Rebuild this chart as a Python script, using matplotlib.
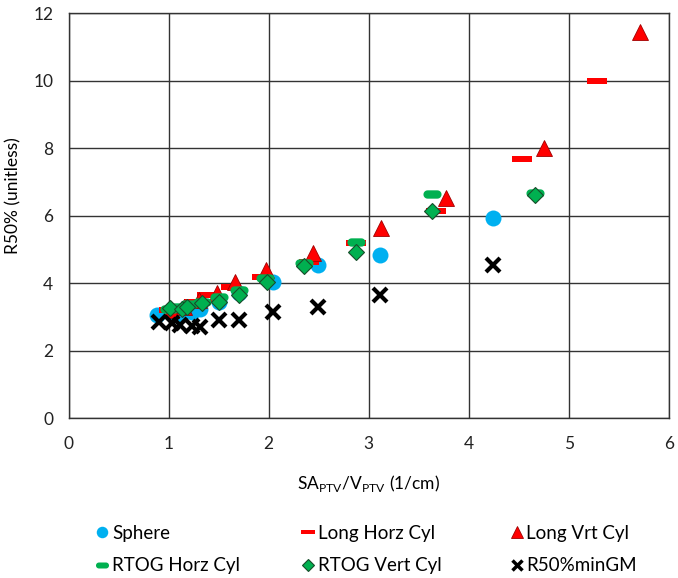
import matplotlib
matplotlib.use("Agg")
import matplotlib.pyplot as plt
from matplotlib.lines import Line2D
import numpy as np

plt.rcParams['font.family'] = ['Lato', 'DejaVu Sans']
plt.rcParams['mathtext.fontset'] = 'custom'
plt.rcParams['mathtext.rm'] = 'Lato'
plt.rcParams['font.size'] = 12

# data
sphere_x = [0.88, 1.04, 1.12, 1.23, 1.31, 1.50, 1.70, 2.04, 2.49, 3.11, 4.24]
sphere_y = [3.06, 3.05, 3.08, 3.15, 3.25, 3.45, 3.70, 4.03, 4.54, 4.83, 5.94]

lhc_x = [1.00, 1.12, 1.25, 1.38, 1.62, 1.93, 2.40, 2.87, 3.67, 4.53, 5.28]
lhc_y = [3.20, 3.30, 3.45, 3.65, 3.90, 4.18, 4.64, 5.19, 6.14, 7.68, 10.00]

lvc_x = [1.02, 1.15, 1.30, 1.48, 1.66, 1.97, 2.44, 3.12, 3.77, 4.75, 5.71]
lvc_y = [3.20, 3.30, 3.50, 3.70, 4.05, 4.39, 4.91, 5.63, 6.52, 8.00, 11.45]

rhc_x = [1.00, 1.10, 1.20, 1.33, 1.50, 1.70, 1.96, 2.35, 2.87, 3.63, 4.66]
rhc_y = [3.25, 3.30, 3.40, 3.45, 3.60, 3.80, 4.15, 4.59, 5.23, 6.65, 6.67]

rvc_x = [1.01, 1.13, 1.18, 1.33, 1.50, 1.70, 1.98, 2.35, 2.87, 3.63, 4.66]
rvc_y = [3.26, 3.23, 3.31, 3.41, 3.45, 3.65, 4.05, 4.52, 4.94, 6.14, 6.62]

gm_x = [0.90, 1.03, 1.11, 1.23, 1.31, 1.50, 1.70, 2.04, 2.49, 3.11, 4.24]
gm_y = [2.86, 2.81, 2.76, 2.73, 2.71, 2.91, 2.91, 3.14, 3.31, 3.65, 4.54]

labels = ['Sphere', 'Long Horz Cyl', 'Long Vrt Cyl',
          'RTOG Horz Cyl', 'RTOG Vert Cyl', 'R50%minGM']

# marker shapes
bar_marker = [(-1, -0.25), (1, -0.25), (1, 0.25), (-1, 0.25), (-1, -0.25)]
t = np.linspace(-np.pi / 2, np.pi / 2, 12)
r = 0.46
right = [(1 - r + r * np.cos(a), r * np.sin(a)) for a in t]
left = [(-1 + r - r * np.cos(a), -r * np.sin(a)) for a in t]
pill_marker = right + left + [right[0]]

blue = '#00B0F0'
red = '#FF0000'
green = '#00B050'

fig = plt.figure(figsize=(6.78, 5.78), dpi=100)
ax = fig.add_axes([0.1013, 0.2763, 0.885, 0.7007])

styles = [
    dict(marker='o', ms=11.5, mfc=blue, mec=blue, mew=0),
    dict(marker=bar_marker, ms=14.5, mfc=red, mec=red, mew=0),
    dict(marker='^', ms=12, mfc=red, mec='#A00000', mew=0.6),
    dict(marker=pill_marker, ms=13, mfc=green, mec=green, mew=0),
    dict(marker='D', ms=8.5, mfc=green, mec='#184d2a', mew=0.8),
    dict(marker='x', ms=9.5, mfc='black', mec='black', mew=3),
]
series = [(sphere_x, sphere_y), (lhc_x, lhc_y), (lvc_x, lvc_y),
          (rhc_x, rhc_y), (rvc_x, rvc_y), (gm_x, gm_y)]

for (xs, ys), st, lab in zip(series, styles, labels):
    ax.plot(xs, ys, ls='none', label=lab, zorder=3, **st)

ax.set_xlim(0, 6)
ax.set_ylim(0, 12)
ax.set_xticks(range(0, 7))
ax.set_yticks(range(0, 13, 2))
ax.grid(True, color='#333333', lw=1.0)
ax.set_axisbelow(True)
ax.tick_params(axis='x', length=0, pad=13, labelsize=12.5, colors='#222222')
ax.tick_params(axis='y', length=0, pad=11, labelsize=12.5, colors='#222222')
for s in ax.spines.values():
    s.set_color('#333333')
    s.set_linewidth(1.0)

ax.set_xlabel(r'SA$_{\mathrm{PTV}}$/V$_{\mathrm{PTV}}$ (1/cm)', fontsize=12.5, labelpad=15)
ax.set_ylabel('R50% (unitless)', fontsize=12.5)
ax.yaxis.set_label_coords(-0.078, 0.55)

# legend below the plot, one block per column
handles = []
for st in styles:
    st2 = dict(st)
    st2['ms'] = st['ms'] * 0.72
    if st2['marker'] == 'x':
        st2['mew'] = 2.5
    handles.append(Line2D([], [], ls='none', **st2))

W, H = 678.0, 578.0
col_left = [94.5, 300.5, 509.0]
for c, left_px in enumerate(col_left):
    leg = fig.legend([handles[c], handles[c + 3]], [labels[c], labels[c + 3]],
                     loc='center left', bbox_to_anchor=(left_px / W, 1 - 549.5 / H),
                     frameon=False, fontsize=13.5, handletextpad=0.13,
                     handlelength=0.8, borderpad=0, borderaxespad=0,
                     labelspacing=0.82)

fig.savefig('out.png', dpi=100)
